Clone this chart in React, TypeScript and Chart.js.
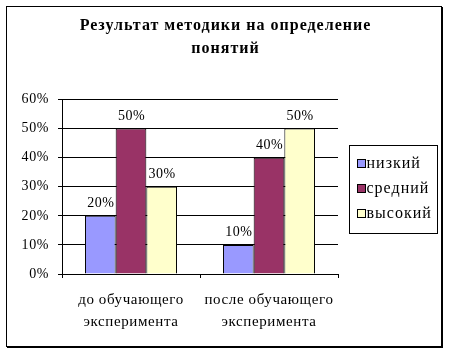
import React, { useEffect, useRef } from "react";
import { Chart, registerables } from "chart.js";

Chart.register(...registerables);

const TITLE_LINES = ["Результат методики на определение", "понятий"];
const CATEGORIES = [["до обучающего", "эксперимента"], ["после обучающего", "эксперимента"]];
const SERIES_NAMES = ["низкий", "средний", "высокий"];
const LOW = [20, 10];
const MID = [50, 40];
const HIGH = [30, 50];
const SERIES_COLORS = ["#9999FF", "#993366", "#FFFFCC"];
const Y_TICKS = [0, 10, 20, 30, 40, 50, 60];

const FONT = "'Liberation Serif'";

const spacingPlugin = {
  id: "spacing",
  beforeDraw(chart: any) {
    chart.ctx.letterSpacing = "0.6px";
  },
  afterDraw(chart: any) {
    chart.ctx.letterSpacing = "0px";
  },
};

const decorPlugin = {
  id: "decor",
  afterDraw(chart: any) {
    const ctx = chart.ctx;
    ctx.save();
    // outer border
    ctx.strokeStyle = "#000";
    ctx.lineWidth = 1;
    ctx.strokeRect(6.5, 6.5, 435, 340);
    ctx.beginPath();
    ctx.moveTo(442.5, 7);
    ctx.lineTo(442.5, 348);
    ctx.moveTo(7, 347.5);
    ctx.lineTo(443, 347.5);
    ctx.stroke();

    // title
    ctx.fillStyle = "#000";
    ctx.letterSpacing = "1px";
    ctx.font = `bold 16px ${FONT}`;
    ctx.textAlign = "center";
    ctx.textBaseline = "middle";
    TITLE_LINES.forEach((t, i) => ctx.fillText(t, 225.5, 26 + i * 23));

    // data labels
    ctx.letterSpacing = "0.5px";
    ctx.font = `14px ${FONT}`;
    ctx.textBaseline = "alphabetic";
    chart.data.datasets.forEach((ds: any, di: number) => {
      const meta = chart.getDatasetMeta(di);
      meta.data.forEach((bar: any, i: number) => {
        ctx.fillText(ds.data[i] + "%", bar.x + 0.5, bar.y - 9);
      });
    });

    // legend
    ctx.letterSpacing = "1px";
    ctx.strokeRect(349.5, 145.5, 88, 88);
    ctx.font = `16px ${FONT}`;
    ctx.textAlign = "left";
    ctx.textBaseline = "middle";
    chart.data.datasets.forEach((ds: any, di: number) => {
      const cy = 164 + di * 25;
      ctx.fillStyle = ds.backgroundColor;
      ctx.fillRect(357.5, cy - 4.5, 8, 8);
      ctx.strokeRect(357.5, cy - 4.5, 8, 8);
      ctx.fillStyle = "#000";
      ctx.fillText(ds.label, 366.5, cy);
    });
    ctx.restore();
  },
};

export default function App() {
  const ref = useRef<HTMLCanvasElement>(null);
  useEffect(() => {
    let chart: any = null;
    let cancelled = false;
    const build = () => {
      if (cancelled) return;
      if (chart) chart.destroy();
      chart = new Chart(ref.current!, {
        type: "bar",
        data: {
          labels: CATEGORIES,
          datasets: [LOW, MID, HIGH].map((d, i) => ({
            label: SERIES_NAMES[i],
            data: d,
            backgroundColor: SERIES_COLORS[i],
            borderColor: "#000",
            borderWidth: 1,
            barPercentage: 1,
            categoryPercentage: 0.667,
          })),
        },
        options: {
          responsive: false,
          animation: false,
          devicePixelRatio: 1,
          layout: { padding: { top: 99.5, left: 8, right: 112, bottom: 0 } },
          plugins: {
            legend: { display: false },
            title: { display: false },
            tooltip: { enabled: false },
          },
          scales: {
            x: {
              grid: { drawOnChartArea: false, drawTicks: true, tickLength: 4, color: "#000", offset: true },
              border: { display: true, color: "#000" },
              ticks: { color: "#000", padding: 10.5, font: { family: FONT, size: 15, lineHeight: 1.5 }, maxRotation: 0 },
              afterFit(scale: any) { scale.height = 80; },
            },
            y: {
              min: 0,
              max: 60,
              afterBuildTicks(scale: any) { scale.ticks = Y_TICKS.map((v) => ({ value: v })); },
              grid: { color: "#000", tickLength: 4, drawTicks: true },
              border: { display: true, color: "#000" },
              ticks: { color: "#000", padding: 9, font: { family: FONT, size: 14 }, callback: (v: any) => v + "%" },
              afterFit(scale: any) { scale.width = 54; },
            },
          },
        },
        plugins: [spacingPlugin, decorPlugin],
      });
    };
    build();
    const fonts: any = (document as any).fonts;
    if (fonts && fonts.load) {
      Promise.all([
        fonts.load(`16px ${FONT}`, "до 60%"),
        fonts.load(`bold 16px ${FONT}`, "Результат"),
      ]).then(build, build);
    }
    return () => {
      cancelled = true;
      if (chart) chart.destroy();
    };
  }, []);
  return (
    <div style={{ position: "absolute", left: 0, top: 0, width: 450, height: 354, background: "#fff" }}>
      <span style={{ position: "absolute", left: 0, top: 0, opacity: 0, fontFamily: "Liberation Serif", fontSize: 16 }}>
        до <b>Результат</b>
      </span>
      <canvas ref={ref} width={450} height={354} style={{ position: "absolute", left: 0, top: 0 }} />
    </div>
  );
}
